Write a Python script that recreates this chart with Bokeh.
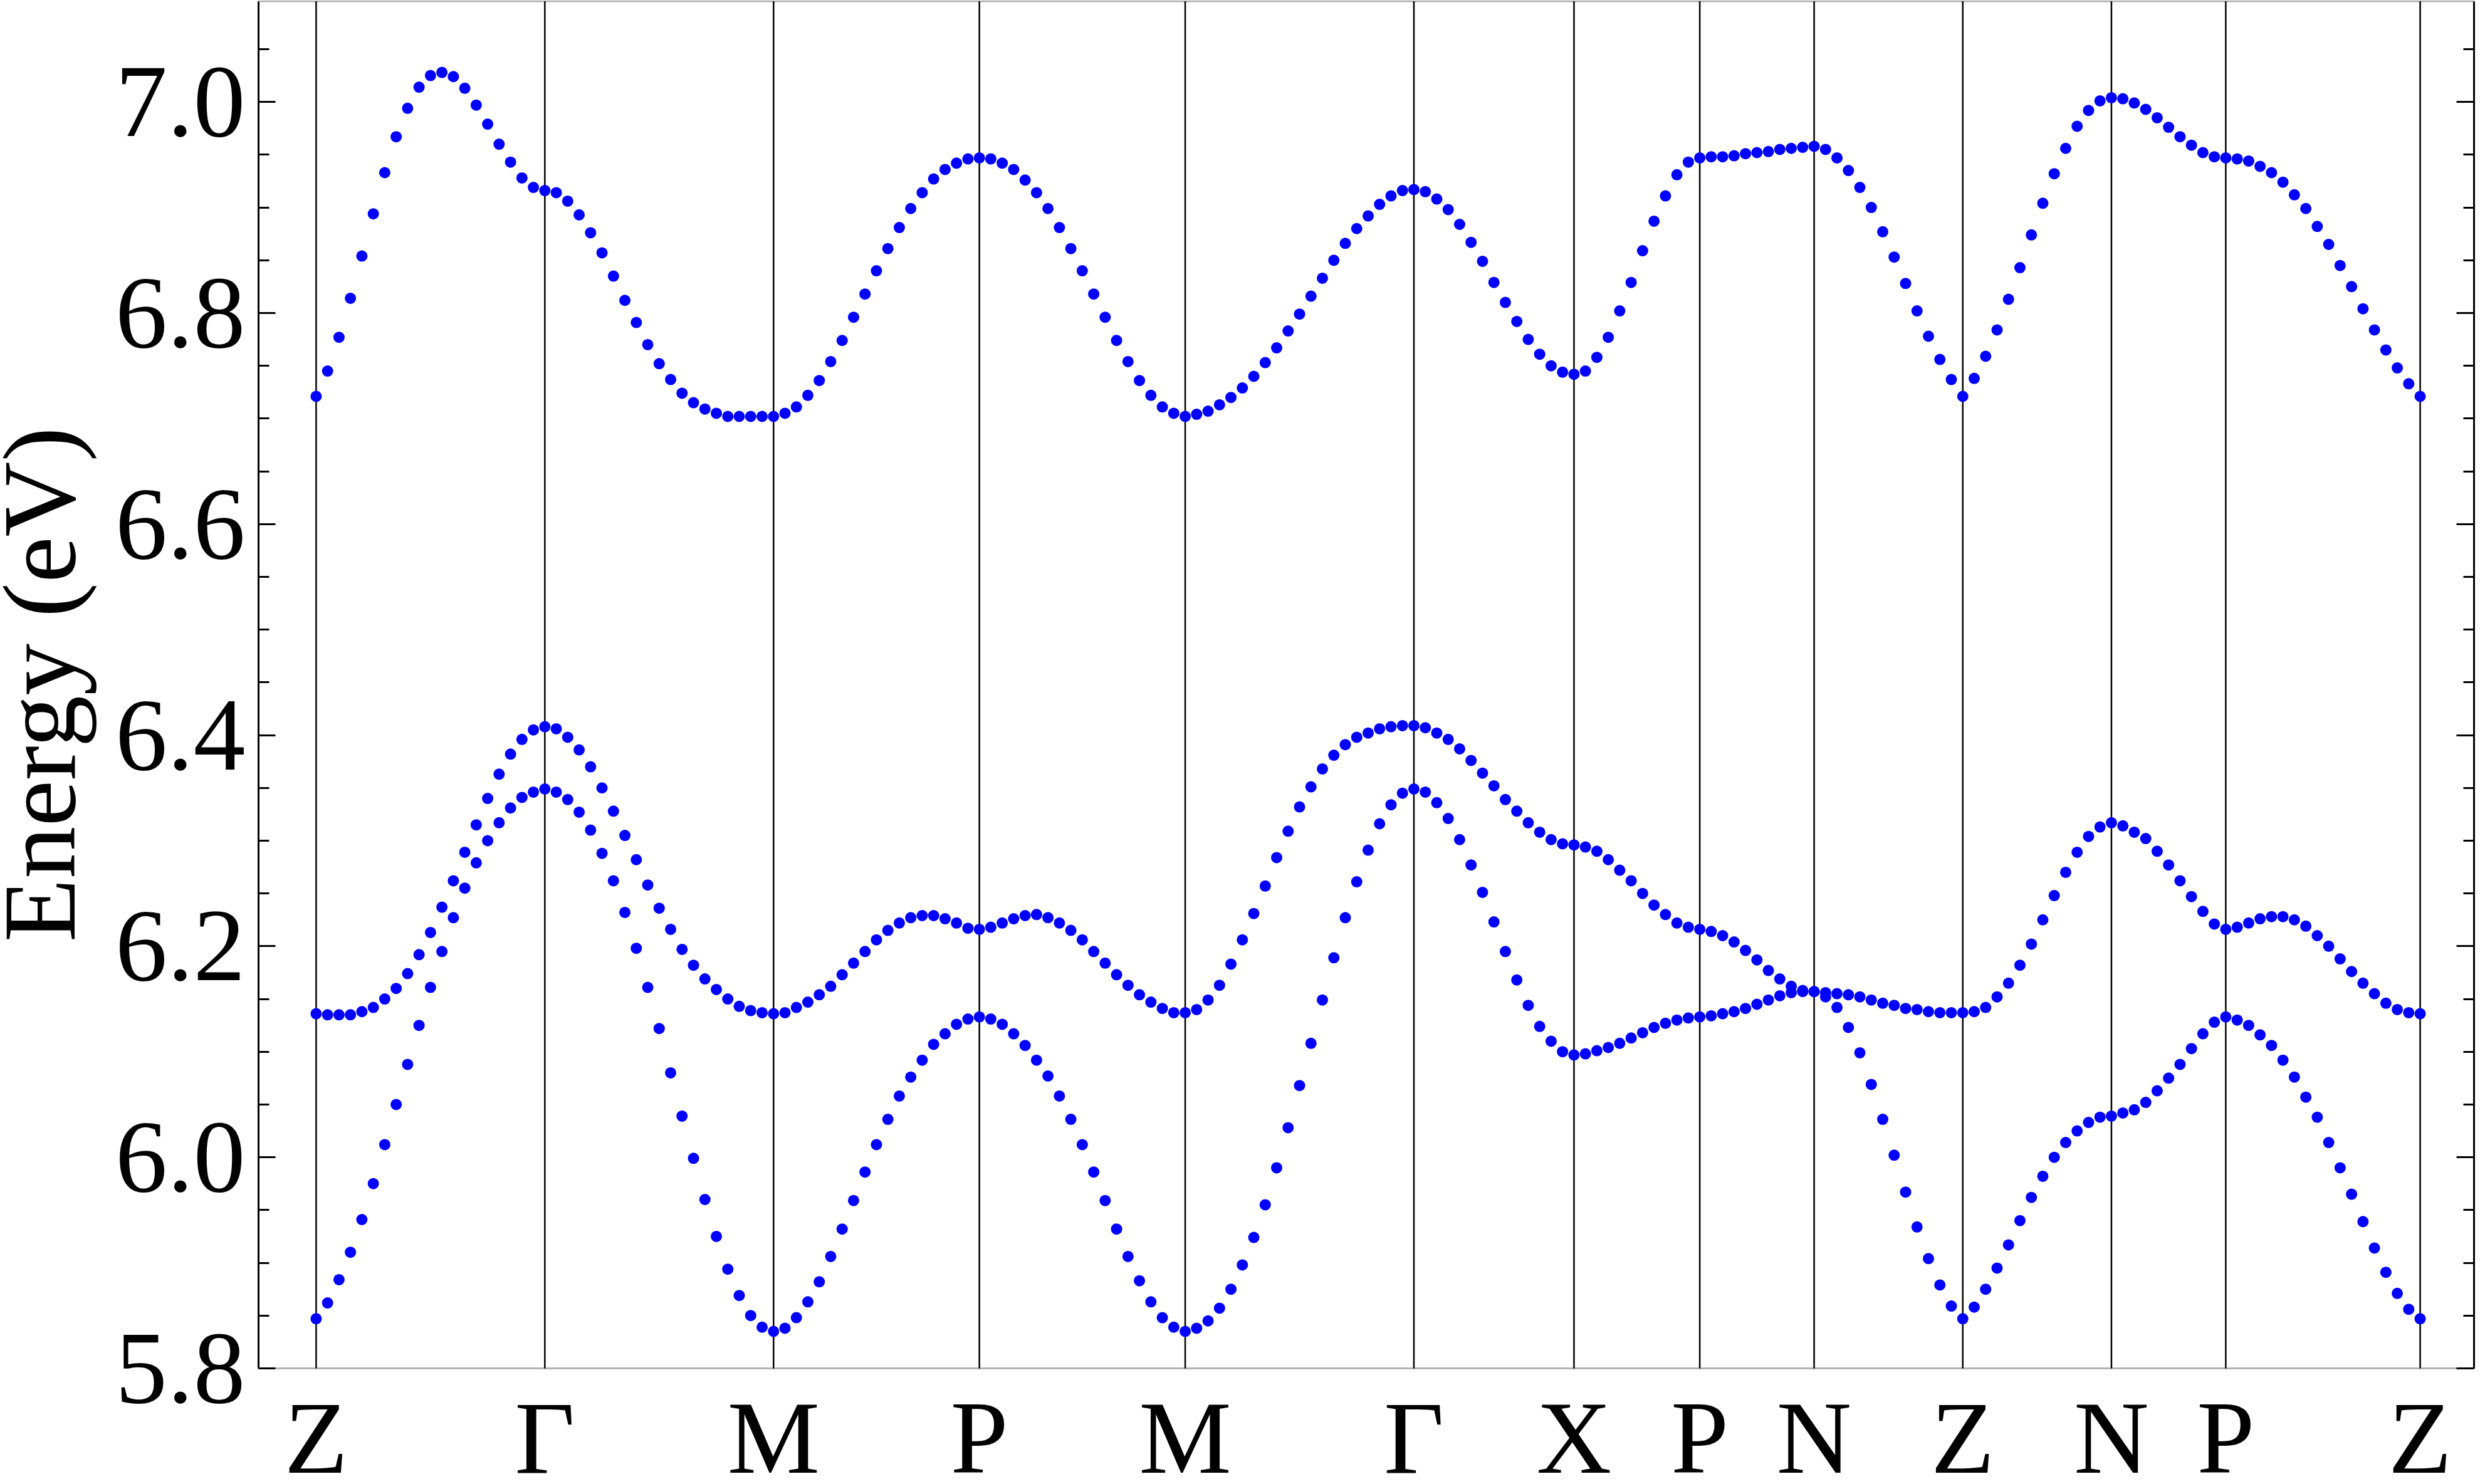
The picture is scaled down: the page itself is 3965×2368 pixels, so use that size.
from bokeh.plotting import figure
from bokeh.models import (Range1d, FixedTicker, PrintfTickFormatter, LinearAxis,
                          Label, LabelSet, ColumnDataSource, CustomJSTickFormatter,
                          BoxAnnotation)
from bokeh.core.properties import value
from bokeh.embed import file_html
from bokeh.resources import INLINE

# high-symmetry path (k-point index of each corner) and its labels
kpoint_labels = ["Z", "Γ", "M", "P", "M", "Γ", "X", "P", "N", "Z", "N", "P", "Z"]
kpoint_index = [0, 20, 40, 58, 76, 96, 110, 121, 131, 144, 157, 167, 184]

# upper band (eV), Z-Γ-M-P-M-Γ-X-P-N-Z-N-P-Z
band_high = [
    6.721, 6.745, 6.777, 6.814, 6.854, 6.894, 6.933, 6.967, 6.994, 7.014, 7.025,
    7.028, 7.024, 7.013, 6.997, 6.979, 6.960, 6.943, 6.928, 6.919, 6.916,
    6.914, 6.906, 6.893, 6.876, 6.857, 6.835, 6.812, 6.791, 6.770, 6.752,
    6.737, 6.724, 6.715, 6.709, 6.705, 6.702, 6.702, 6.702, 6.702, 6.702,
    6.705, 6.711, 6.722, 6.736, 6.754, 6.774, 6.796, 6.818, 6.840, 6.861,
    6.881, 6.899, 6.914, 6.927, 6.936, 6.942, 6.946, 6.947,
    6.946, 6.942, 6.936, 6.926, 6.914, 6.899, 6.881, 6.861, 6.840, 6.818,
    6.796, 6.774, 6.754, 6.736, 6.722, 6.711, 6.705, 6.702,
    6.704, 6.707, 6.713, 6.720, 6.729, 6.740, 6.753, 6.767, 6.783, 6.799,
    6.816, 6.833, 6.850, 6.866, 6.880, 6.892, 6.903, 6.911, 6.916, 6.917,
    6.915, 6.908, 6.898, 6.884, 6.867, 6.849, 6.829, 6.810, 6.792, 6.775,
    6.761, 6.750, 6.744, 6.742,
    6.745, 6.758, 6.777, 6.802, 6.829, 6.859, 6.887, 6.911, 6.931, 6.943, 6.947,
    6.948, 6.948, 6.949, 6.951, 6.952, 6.953, 6.955, 6.956, 6.957, 6.958,
    6.955, 6.947, 6.935, 6.919, 6.900, 6.877, 6.853, 6.828, 6.802, 6.778,
    6.756, 6.737, 6.721,
    6.738, 6.759, 6.784, 6.813, 6.843, 6.874, 6.904, 6.932, 6.956, 6.977,
    6.992, 7.001, 7.004,
    7.003, 6.999, 6.993, 6.985, 6.976, 6.967, 6.959, 6.952, 6.948, 6.947,
    6.946, 6.944, 6.939, 6.933, 6.924, 6.912, 6.899, 6.882, 6.865, 6.845,
    6.825, 6.804, 6.784, 6.765, 6.748, 6.733, 6.721,
]

# middle band (eV)
band_mid = [
    6.136, 6.135, 6.135, 6.135, 6.138, 6.142, 6.150, 6.160, 6.174, 6.192, 6.213,
    6.237, 6.262, 6.289, 6.315, 6.340, 6.363, 6.382, 6.396, 6.405, 6.408,
    6.406, 6.398, 6.386, 6.370, 6.350, 6.328, 6.305, 6.282, 6.258, 6.236,
    6.216, 6.197, 6.182, 6.169, 6.159, 6.150, 6.143, 6.139, 6.137, 6.136,
    6.137, 6.142, 6.147, 6.154, 6.162, 6.173, 6.184, 6.195, 6.206, 6.215,
    6.222, 6.227, 6.229, 6.229, 6.226, 6.222, 6.217, 6.216,
    6.218, 6.222, 6.226, 6.229, 6.230, 6.227, 6.222, 6.215, 6.206, 6.195,
    6.184, 6.173, 6.163, 6.154, 6.147, 6.141, 6.137, 6.137,
    6.140, 6.149, 6.163, 6.183, 6.206, 6.231, 6.257, 6.284, 6.309, 6.332,
    6.351, 6.368, 6.381, 6.391, 6.398, 6.402, 6.406, 6.408, 6.409, 6.409,
    6.407, 6.402, 6.396, 6.387, 6.376, 6.364, 6.352, 6.339, 6.328, 6.317,
    6.308, 6.301, 6.297, 6.296,
    6.294, 6.290, 6.282, 6.272, 6.262, 6.250, 6.239, 6.230, 6.222, 6.218, 6.216,
    6.214, 6.210, 6.204, 6.196, 6.187, 6.177, 6.169, 6.162, 6.158, 6.157,
    6.156, 6.155, 6.154, 6.152, 6.149, 6.146, 6.144, 6.141, 6.140, 6.138,
    6.137, 6.137, 6.137,
    6.138, 6.142, 6.152, 6.165, 6.182, 6.202, 6.225, 6.248, 6.270, 6.289,
    6.304, 6.313, 6.317,
    6.314, 6.308, 6.302, 6.290, 6.277, 6.262, 6.247, 6.233, 6.221, 6.216,
    6.218, 6.222, 6.226, 6.228, 6.228, 6.225, 6.219, 6.210, 6.200, 6.188,
    6.176, 6.165, 6.155, 6.146, 6.140, 6.137, 6.136,
]

# lowest band (eV)
band_low = [
    5.847, 5.862, 5.884, 5.910, 5.941, 5.975, 6.012, 6.050, 6.088, 6.125, 6.161,
    6.195, 6.227, 6.255, 6.279, 6.300, 6.317, 6.331, 6.341, 6.346, 6.349,
    6.346, 6.339, 6.327, 6.310, 6.288, 6.262, 6.232, 6.198, 6.161, 6.122,
    6.080, 6.039, 5.999, 5.960, 5.925, 5.894, 5.869, 5.850, 5.839, 5.835,
    5.838, 5.848, 5.863, 5.882, 5.906, 5.932, 5.959, 5.986, 6.012, 6.036,
    6.058, 6.076, 6.092, 6.107, 6.117, 6.126, 6.131, 6.133,
    6.131, 6.126, 6.117, 6.106, 6.092, 6.077, 6.058, 6.036, 6.012, 5.986,
    5.959, 5.932, 5.906, 5.883, 5.863, 5.848, 5.839, 5.835,
    5.838, 5.845, 5.857, 5.875, 5.898, 5.924, 5.955, 5.990, 6.028, 6.068,
    6.108, 6.149, 6.189, 6.227, 6.261, 6.291, 6.316, 6.334, 6.345, 6.349,
    6.346, 6.336, 6.321, 6.301, 6.277, 6.251, 6.223, 6.195, 6.168, 6.144,
    6.124, 6.110, 6.100, 6.097,
    6.098, 6.101, 6.104, 6.108, 6.113, 6.118, 6.123, 6.127, 6.130, 6.132, 6.133,
    6.134, 6.136, 6.138, 6.141, 6.145, 6.149, 6.153, 6.156, 6.157, 6.157,
    6.152, 6.142, 6.123, 6.099, 6.069, 6.036, 6.002, 5.967, 5.934, 5.904,
    5.879, 5.859, 5.847,
    5.858, 5.875, 5.895, 5.917, 5.940, 5.962, 5.982, 6.000, 6.014, 6.025,
    6.033, 6.038, 6.039,
    6.042, 6.045, 6.052, 6.063, 6.075, 6.088, 6.103, 6.117, 6.128, 6.133,
    6.130, 6.125, 6.116, 6.106, 6.092, 6.076, 6.057, 6.038, 6.014, 5.990,
    5.965, 5.939, 5.914, 5.891, 5.871, 5.856, 5.847,
]

y_major = [5.8, 6.0, 6.2, 6.4, 6.6, 6.8, 7.0]
y_minor = [5.85, 5.9, 5.95, 6.05, 6.1, 6.15, 6.25, 6.3, 6.35, 6.45, 6.5, 6.55,
           6.65, 6.7, 6.75, 6.85, 6.9, 6.95, 7.05]
y_title = "Energy (eV)"

assert len(band_high) == len(band_mid) == len(band_low) == kpoint_index[-1] + 1, (
    len(band_high), len(band_mid), len(band_low))

k = list(range(len(band_high)))

# plot box (data coordinates) and the wider canvas range that holds the texts
box_left, box_right = -5.04, 188.72
box_bottom, box_top = 5.8, 7.0954
view_x = (-27.62, 188.82)
view_y = (5.6996, 7.0963)

FONT = "Liberation Serif"
FS = "166px"

p = figure(frame_width=3949, frame_height=2352,
           x_range=Range1d(*view_x), y_range=Range1d(*view_y),
           output_backend="svg", toolbar_location=None,
           min_border_left=0, min_border_right=0, min_border_top=0,
           min_border_bottom=0)
p.background_fill_color = "white"
p.border_fill_color = "white"
p.outline_line_color = None
p.xgrid.visible = False
p.ygrid.visible = False
p.xaxis.visible = False

ya = p.yaxis[0]
ya.fixed_location = box_left
ya.bounds = (box_bottom, box_top)
ya.ticker = FixedTicker(ticks=y_major, minor_ticks=y_minor)
ya.formatter = PrintfTickFormatter(format="%.1f")
ya.axis_line_color = "black"
ya.axis_line_width = 3
ya.major_tick_in = 27
ya.major_tick_out = 0
ya.minor_tick_in = 17
ya.minor_tick_out = 0
ya.major_tick_line_width = 3
ya.minor_tick_line_width = 3
ya.major_label_standoff = 21
ya.major_label_text_font = FONT
ya.major_label_text_font_size = FS
ya.major_label_text_color = "black"

ra = LinearAxis(ticker=FixedTicker(ticks=y_major, minor_ticks=y_minor),
                formatter=CustomJSTickFormatter(code="return ''"),
                fixed_location=box_right, bounds=(box_bottom, box_top))
ra.axis_line_color = "black"
ra.axis_line_width = 3
ra.major_tick_in = 28
ra.major_tick_out = 0
ra.minor_tick_in = 17
ra.minor_tick_out = 0
ra.major_tick_line_width = 3
ra.minor_tick_line_width = 3
ra.major_label_standoff = 0
ra.major_label_text_font_size = "1px"
p.add_layout(ra, "right")

# plot frame
p.add_layout(BoxAnnotation(left=box_left, right=box_right, bottom=box_bottom,
                           top=box_top, fill_alpha=0, line_color="black",
                           line_width=3, level="underlay"))

# vertical lines at the high-symmetry points
p.segment(x0=kpoint_index, y0=[box_bottom] * len(kpoint_index),
          x1=kpoint_index, y1=[box_top] * len(kpoint_index),
          line_color="black", line_width=2.5)

for band in (band_low, band_mid, band_high):
    p.scatter(k, band, size=18, fill_color="#0000ff", line_color=None)

# k-point labels under the box
src = ColumnDataSource(dict(x=kpoint_index, y=[5.7008] * len(kpoint_index),
                            t=kpoint_labels))
p.add_layout(LabelSet(x="x", y="y", text="t", source=src, text_align="center",
                      text_baseline="alphabetic", text_font=value(FONT),
                      text_font_size=value(FS), text_color="black"))

# y-axis title
p.add_layout(Label(x=-24.2, y=6.448, text=y_title, angle=1.5707963,
                   text_align="center", text_baseline="alphabetic",
                   text_font=FONT, text_font_size=FS, text_color="black"))

open("out.html", "w").write(file_html(p, INLINE))
